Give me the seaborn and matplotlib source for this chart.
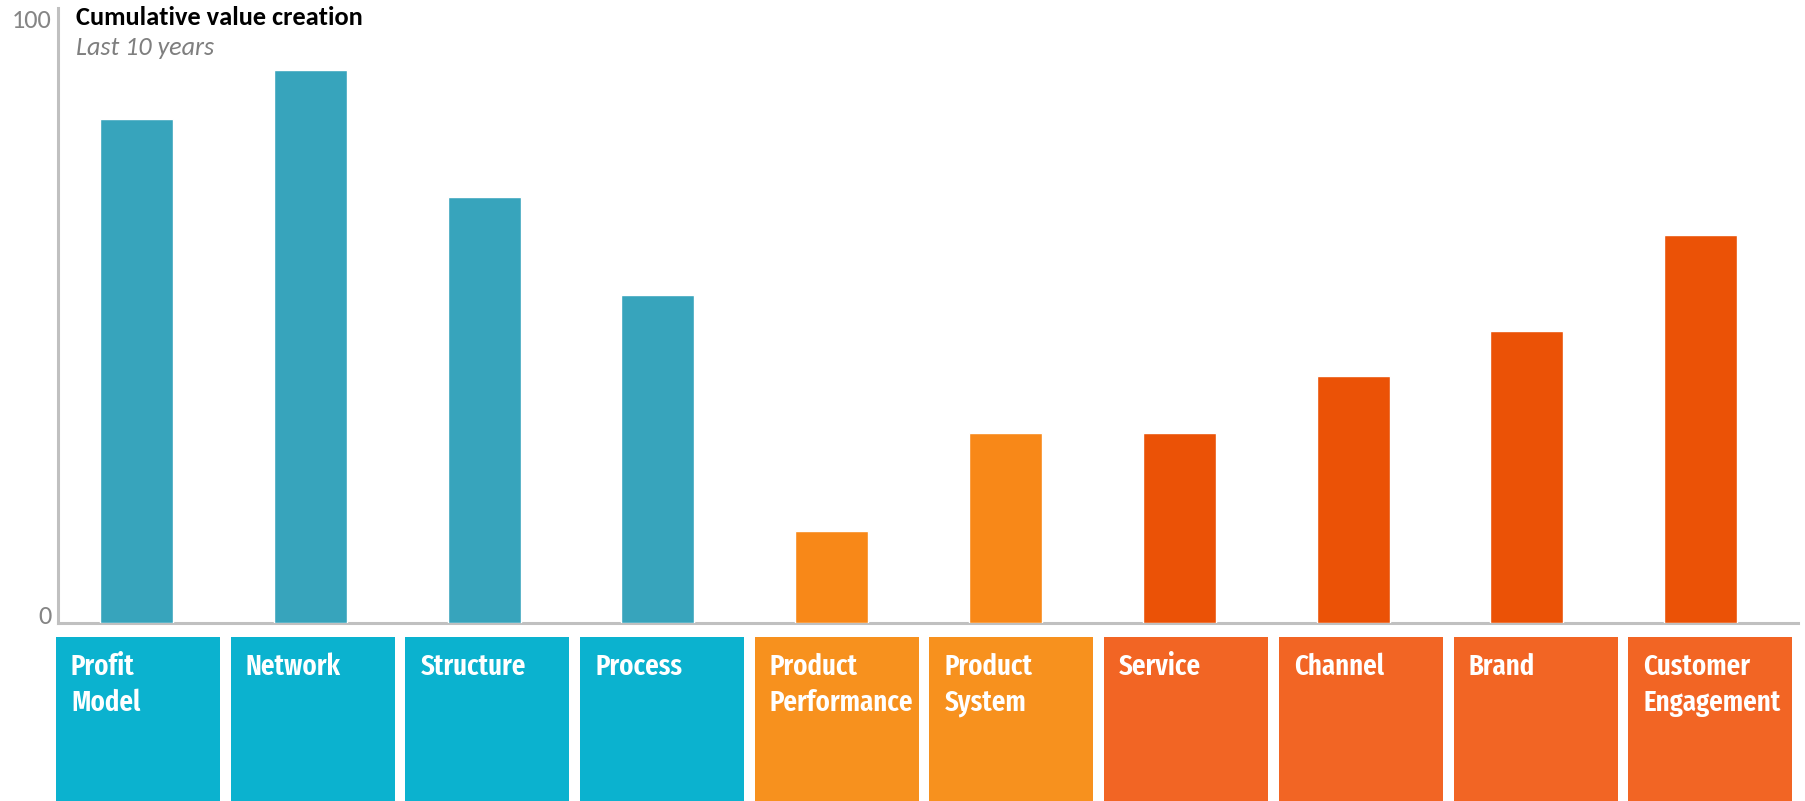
import matplotlib
matplotlib.use("Agg")
import matplotlib.pyplot as plt
from matplotlib.patches import Rectangle
from matplotlib.transforms import ScaledTranslation
import seaborn as sns
import pandas as pd

# ---- data ----
categories = ["Profit Model", "Network", "Structure", "Process",
              "Product Performance", "Product System",
              "Service", "Channel", "Brand", "Customer Engagement"]
box_lines = [["Profit", "Model"], ["Network"], ["Structure"], ["Process"],
             ["Product", "Performance"], ["Product", "System"],
             ["Service"], ["Channel"], ["Brand"], ["Customer", "Engagement"]]
values = [82, 90, 69.3, 53.3, 15, 30.9, 30.9, 40.2, 47.5, 63.1]
groups = ["config"] * 4 + ["offering"] * 2 + ["experience"] * 4
y_ticks = [0, 100]
title = "Cumulative value creation"
subtitle = "Last 10 years"

bar_colors = {"config": "#37A4BC", "offering": "#F88818", "experience": "#EB5206"}
box_colors = {"config": "#0BB2CF", "offering": "#F7911E", "experience": "#F26524"}

df = pd.DataFrame({"category": categories, "value": values, "group": groups})

sns.set_style("white")
main_fonts = ["Carlito", "Lato", "DejaVu Sans"]
box_fonts = ["Fira Sans Extra Condensed", "Fira Sans Condensed", "DejaVu Sans"]
plt.rcParams["font.family"] = main_fonts

W, H = 1806, 801
fig = plt.figure(figsize=(W / 100, H / 100), dpi=100)

# main axes (pixel geometry)
left_px, right_px, top_px, base_px = 58.5, 1798, 8, 623
ax = fig.add_axes([left_px / W, 1 - base_px / H, (right_px - left_px) / W, (base_px - top_px) / H])

pal = [bar_colors[g] for g in groups]
sns.barplot(data=df, x="category", y="value", hue="category", palette=pal,
            legend=False, width=0.42, ax=ax, saturation=1)

step = 173.8
first_c = 136.5
ax.set_xlim((left_px - first_c) / step, (right_px - first_c) / step)
ax.set_ylim(0, 100)
ax.set_xlabel("")
ax.set_ylabel("")
ax.set_xticks([])
ax.set_yticks(y_ticks)
ax.set_yticklabels([str(t) for t in y_ticks], fontsize=19, color="#858585")
ax.tick_params(axis="y", length=0, pad=5)
for s in ["top", "right"]:
    ax.spines[s].set_visible(False)
for s in ["left", "bottom"]:
    ax.spines[s].set_color("#C0C0C0")
    ax.spines[s].set_linewidth(2.2)
    ax.spines[s].set_zorder(0.5)

offsets = [9, -11]
for lab, dy in zip(ax.get_yticklabels(), offsets):
    lab.set_transform(lab.get_transform() + ScaledTranslation(0, dy / 100, fig.dpi_scale_trans))

# title and subtitle
fig.text(76 / W, 1 - 25 / H, title, fontsize=19, fontweight="bold", color="#000000",
         va="baseline", ha="left")
fig.text(76 / W, 1 - 55 / H, subtitle, fontsize=18.8, fontstyle="italic", color="#7F7F7F",
         va="baseline", ha="left")

# label boxes below
box_top = 637
bax = fig.add_axes([0, 0, 1, (H - box_top) / H])
bstep = 174.7
bfirst = 138
bax.set_xlim(-bfirst / bstep, (W - bfirst) / bstep)
bax.set_ylim(0, H - box_top)
bax.axis("off")
bw = 164 / bstep
hb = H - box_top
for i, (lines, g) in enumerate(zip(box_lines, groups)):
    bax.add_patch(Rectangle((i - bw / 2, -10), bw, hb + 10, facecolor=box_colors[g],
                            edgecolor="none"))
    for j, line in enumerate(lines):
        yb = hb - (38 + 36 * j)
        bax.text(i - bw / 2 + 15 / bstep, yb, line, color="white", fontsize=21,
                 fontweight="semibold", family=box_fonts,
                 va="baseline", ha="left")

fig.savefig("out.png", dpi=100)
